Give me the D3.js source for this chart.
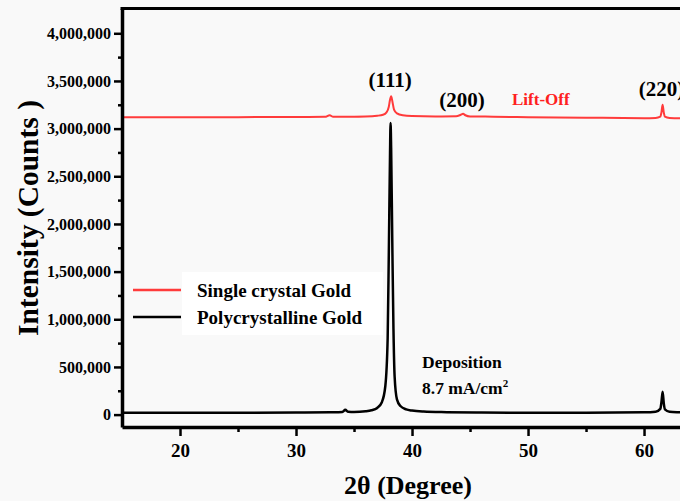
<!DOCTYPE html>
<html>
<head>
<meta charset="utf-8">
<script src="https://cdn.jsdelivr.net/npm/d3@7"></script>
<style>
  body { margin: 0; background: #f9f9f9; }
  svg { display: block; font-family: "Liberation Serif", "Times New Roman", serif; font-weight: bold; }
</style>
</head>
<body>
<svg width="680" height="501"></svg>
<script>
// 2theta positions and counts
const polyX = [15, 20, 25, 30, 33, 34.0, 34.25, 34.5, 35, 36, 36.5, 37.0, 37.4, 37.7, 37.9, 38.0, 38.1, 38.15, 38.2, 38.3, 38.4, 38.5, 38.7, 39.0, 39.5, 40, 41, 43, 46, 50, 55, 60, 61.0, 61.4, 61.5, 61.6, 61.7, 61.8, 62.2, 63, 63.5];
const polyY = [20000, 20000, 20000, 22000, 25000, 28000, 50000, 30000, 28000, 35000, 45000, 70000, 130000, 300000, 800000, 1700000, 2700000, 3060000, 2800000, 1800000, 900000, 400000, 160000, 90000, 55000, 42000, 32000, 26000, 22000, 20000, 20000, 24000, 30000, 60000, 130000, 240000, 120000, 55000, 30000, 24000, 22000];

const singleX = [15, 20, 25, 30, 32.5, 32.9, 33.2, 34, 36, 37, 37.5, 37.8, 38.0, 38.1, 38.2, 38.3, 38.45, 38.7, 39.2, 40, 42, 43.8, 44.2, 44.4, 44.6, 45, 47, 50, 55, 60, 61.0, 61.4, 61.5, 61.6, 61.7, 61.8, 62.2, 63, 63.5];
const singleY = [3120000, 3118000, 3120000, 3122000, 3124000, 3140000, 3124000, 3125000, 3128000, 3135000, 3145000, 3170000, 3230000, 3300000, 3340000, 3290000, 3200000, 3160000, 3140000, 3132000, 3128000, 3130000, 3145000, 3155000, 3140000, 3128000, 3125000, 3120000, 3115000, 3110000, 3112000, 3125000, 3170000, 3250000, 3170000, 3125000, 3112000, 3108000, 3108000];

const xTicks = [20, 30, 40, 50, 60];
const xMinor = [25, 35, 45, 55];
const yTicks = [0, 500000, 1000000, 1500000, 2000000, 2500000, 3000000, 3500000, 4000000];
const yMinor = [250000, 750000, 1250000, 1750000, 2250000, 2750000, 3250000, 3750000];

const peakLabels = ["(111)", "(200)", "(220)"];
const peakPos = [38.2, 44.4, 61.6];
const seriesNames = ["Single crystal Gold", "Polycrystalline Gold"];
const seriesColors = ["#ff3b3b", "#000000"];

const svg = d3.select("svg");

const x = d3.scaleLinear().domain([15, 63.1]).range([122, 680]);
const y = d3.scaleLinear().domain([-130000, 4260000]).range([427, 8.5]);

// frame top
svg.append("line")
    .attr("x1", 120.5).attr("x2", 680)
    .attr("y1", y.range()[1]).attr("y2", y.range()[1])
    .attr("stroke", "#000").attr("stroke-width", 3);

// lines
const line = d3.line().x(d => x(d[0])).y(d => y(d[1])).curve(d3.curveMonotoneX);
const polyData = d3.zip(polyX, polyY);
const singleData = d3.zip(singleX, singleY);

svg.append("path").datum(singleData)
    .attr("d", line).attr("fill", "none")
    .attr("stroke", seriesColors[0]).attr("stroke-width", 2);
svg.append("path").datum(polyData)
    .attr("d", line).attr("fill", "none")
    .attr("stroke", seriesColors[1]).attr("stroke-width", 2.5);

// axes
function styleAxis(g) {
    g.attr("font-family", null).attr("font-size", null);
    g.select(".domain").attr("stroke-width", 3.5);
    g.selectAll(".tick line").attr("stroke-width", 2.5);
    g.selectAll("text").attr("fill", "#000");
}

const yAxis = svg.append("g").attr("transform", "translate(122,0)")
    .call(d3.axisLeft(y).tickValues(yTicks).tickFormat(d3.format(",")).tickSize(8).tickSizeOuter(0).tickPadding(3))
    .call(styleAxis);
yAxis.selectAll("text").attr("font-size", 16);
svg.append("g").attr("transform", "translate(122,0)")
    .call(d3.axisLeft(y).tickValues(yMinor).tickFormat("").tickSize(4).tickSizeOuter(0))
    .call(styleAxis)
    .select(".domain").remove();

const xAxis = svg.append("g").attr("transform", "translate(0,427)")
    .call(d3.axisBottom(x).tickValues(xTicks).tickSize(9).tickSizeOuter(0).tickPadding(8))
    .call(styleAxis);
xAxis.selectAll("text").attr("font-size", 19);
svg.append("g").attr("transform", "translate(0,427)")
    .call(d3.axisBottom(x).tickValues(xMinor).tickFormat("").tickSize(5).tickSizeOuter(0))
    .call(styleAxis)
    .select(".domain").remove();

// axis titles
svg.append("text")
    .attr("x", 408).attr("y", 494)
    .attr("text-anchor", "middle").attr("font-size", 26)
    .text("2θ (Degree)");
svg.append("text")
    .attr("transform", "translate(38,218) rotate(-90)")
    .attr("text-anchor", "middle").attr("font-size", 29.5)
    .text("Intensity (Counts )");

// peak labels
const peakLabelY = [86.5, 106.5, 96];
svg.selectAll("text.peak").data(peakLabels).enter().append("text")
    .attr("class", "peak")
    .attr("x", (d, i) => x(peakPos[i]) - 1)
    .attr("y", (d, i) => peakLabelY[i])
    .attr("text-anchor", "middle").attr("font-size", 21)
    .text(d => d);

svg.append("text")
    .attr("x", 512).attr("y", 105)
    .attr("font-size", 17).attr("fill", "#ff2020")
    .text("Lift-Off");

svg.append("text")
    .attr("x", 422).attr("y", 368)
    .attr("font-size", 17.5)
    .text("Deposition");
const dep = svg.append("text")
    .attr("x", 422).attr("y", 394)
    .attr("font-size", 17.5)
    .text("8.7 mA/cm");
dep.append("tspan").attr("dy", -7).attr("font-size", 11).text("2");

// legend
svg.append("rect")
    .attr("x", 182).attr("y", 272).attr("width", 201).attr("height", 63)
    .attr("fill", "#ffffff");
const legend = svg.selectAll("g.legend").data(seriesNames).enter().append("g")
    .attr("class", "legend")
    .attr("transform", (d, i) => `translate(0,${290 + i * 27})`);
legend.append("line")
    .attr("x1", 133).attr("x2", 181)
    .attr("stroke", (d, i) => seriesColors[i]).attr("stroke-width", 2.5);
legend.append("text")
    .attr("x", 197).attr("y", 7)
    .attr("font-size", 19)
    .text(d => d);
</script>
</body>
</html>
